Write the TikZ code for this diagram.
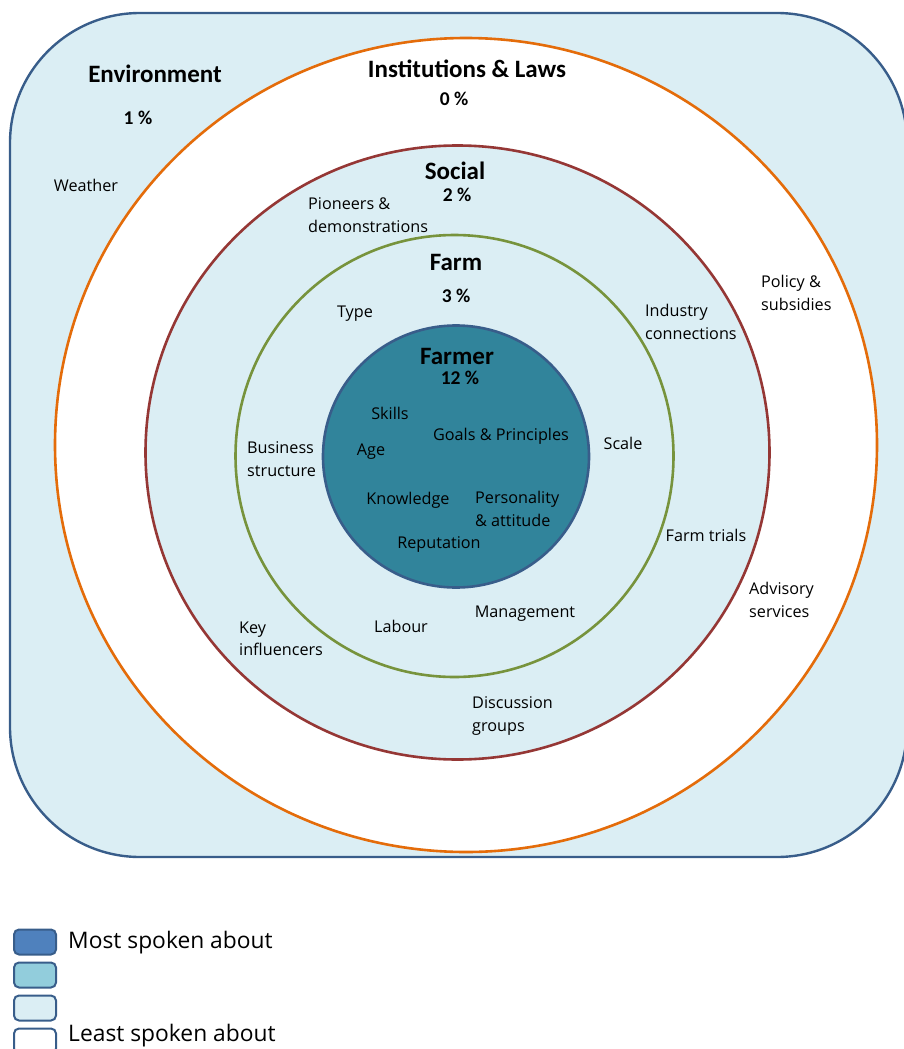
\documentclass[tikz,border=0pt]{standalone}
\usepackage{fontspec}
\setmainfont{Open Sans}
\newfontfamily\headfont{Carlito}
\usetikzlibrary{positioning}

\definecolor{paleblue}{HTML}{DBEEF4}
\definecolor{edgeblue}{HTML}{385D8A}
\definecolor{instorange}{HTML}{E46C0A}
\definecolor{socialred}{HTML}{953735}
\definecolor{farmgreen}{HTML}{77933C}
\definecolor{farmerteal}{HTML}{31849B}
\definecolor{mostblue}{HTML}{4F81BD}
\definecolor{midblue}{HTML}{92CDDC}

\begin{document}
\begin{tikzpicture}[x=1pt,y=-1pt,node distance=6pt,
    ring/.style={line width=2.6pt},
    ttl/.style={font=\headfont\fontsize{25}{28}\selectfont\bfseries, inner sep=0pt},
    pct/.style={font=\headfont\fontsize{19.5}{22}\selectfont\bfseries, inner sep=0pt},
    lbl/.style={font=\fontsize{16.2}{22.5}\selectfont, align=left, inner sep=0pt},
    key/.style={draw=edgeblue, line width=2pt, rounded corners=5pt,
                minimum width=42pt, minimum height=25pt, inner sep=0pt},
    keytxt/.style={font=\fontsize{22.8}{26}\selectfont, inner sep=0pt, anchor=west}]
  \useasboundingbox (0,0) rectangle (903,1049);

  % rings, outside in
  \draw[fill=paleblue, draw=edgeblue, line width=2.4pt, rounded corners=130pt]
    (10,13) rectangle (907,857);
  \draw[ring, draw=instorange, fill=white] (466,445) ellipse [x radius=411pt, y radius=407pt];
  \draw[ring, draw=socialred, fill=paleblue] (457.5,452.5) ellipse [x radius=312pt, y radius=307pt];
  \draw[ring, draw=farmgreen, fill=paleblue] (454.5,456) ellipse [x radius=219pt, y radius=221pt];
  \draw[ring, draw=edgeblue, fill=farmerteal] (456,456.5) ellipse [x radius=133pt, y radius=131pt];

  % environment
  \node[ttl] (env) at (155,74) {Environment};
  \node[pct] (envpct) at (138,118) {1 \%};
  \node[lbl] (weather) at (86,185) {Weather};

  % institutions & laws
  \node[ttl] (inst) at (467,69) {Institutions \& Laws};
  \node[pct] (instpct) at (454,99) {0 \%};
  \node[lbl, anchor=west] (policy) at (761,293) {Policy \&\\subsidies};
  \node[lbl, anchor=west] (advisory) at (749,600) {Advisory\\services};

  % social
  \node[ttl] (social) at (455,171) {Social};
  \node[pct] (socialpct) at (457,195) {2 \%};
  \node[lbl, anchor=west] (pioneers) at (308,215) {Pioneers \&\\demonstrations};
  \node[lbl, anchor=west] (industry) at (645,322) {Industry\\connections};
  \node[lbl] (trials) at (706,535) {Farm trials};
  \node[lbl, anchor=west] (influencers) at (239,639) {Key\\influencers};
  \node[lbl, anchor=west] (discussion) at (472,716) {Discussion\\groups};

  % farm
  \node[ttl] (farm) at (456,262) {Farm};
  \node[pct] (farmpct) at (456,296) {3 \%};
  \node[lbl] (type) at (355,314) {Type};
  \node[lbl, anchor=west] (business) at (247,459) {Business\\structure};
  \node[lbl] (scale) at (623,443) {Scale};
  \node[lbl] (management) at (525,614) {Management};
  \node[lbl] (labour) at (401,626) {Labour};

  % farmer
  \node[ttl] (farmer) at (457,356) {Farmer};
  \node[pct] (farmerpct) at (460,378) {12 \%};
  \node[lbl] (skills) at (390,413) {Skills};
  \node[lbl] (goals) at (501,436) {Goals \& Principles};
  \node[lbl] (age) at (371,452) {Age};
  \node[lbl] (knowledge) at (408,500) {Knowledge};
  \node[lbl, anchor=west] (personality) at (475,509) {Personality\\\& attitude};
  \node[lbl] (reputation) at (439,544) {Reputation};

  % legend
  \node[key, fill=mostblue] (key1) at (35,942) {};
  \node[key, fill=midblue] (key2) [below=of key1] {};
  \node[key, fill=paleblue] (key3) [below=of key2] {};
  \node[key, fill=white] (key4) [below=of key3] {};
  \node[keytxt] (mosttxt) at (68,943) {Most spoken about};
  \node[keytxt] (leasttxt) at (68,1036) {Least spoken about};
\end{tikzpicture}
\end{document}
